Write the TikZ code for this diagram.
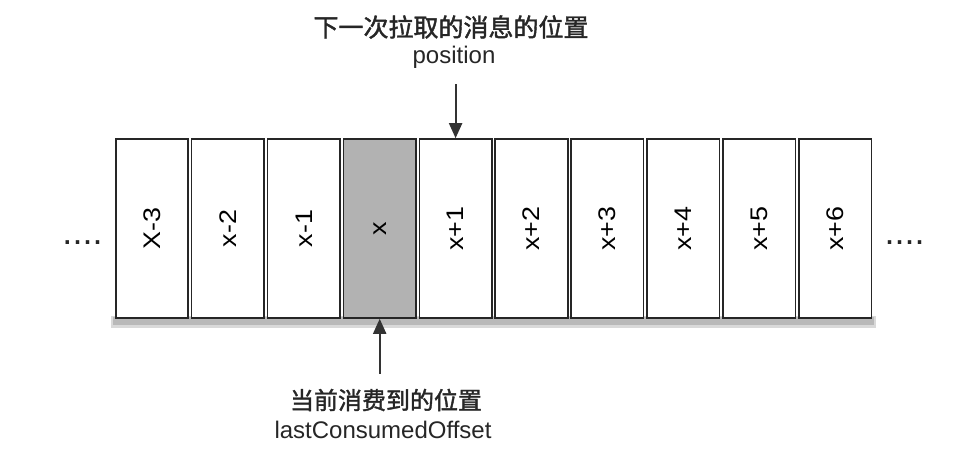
\documentclass[tikz,border=0pt]{standalone}
\usepackage{fontspec}
\setmainfont{Liberation Sans}
\newfontfamily\cjk[FakeBold=1.6]{Noto Sans CJK SC}
\usetikzlibrary{arrows.meta}
\tikzset{
	cell/.style={draw=black!85, line width=1.6pt, minimum width=72.5pt, minimum height=179pt, inner sep=0pt, font=\fontsize{24}{28}\selectfont},
	pointer/.style={draw=black!80, line width=2pt, -{Triangle[length=15pt, width=13pt]}},
	caption/.style={inner sep=0pt, text=black!85, font=\fontsize{24}{28}\selectfont},
	cjkcaption/.style={caption, font=\cjk\fontsize{24}{28}\selectfont},
}
\begin{document}
\begin{tikzpicture}[x=1pt, y=1pt]
		\useasboundingbox (0, 0) rectangle (958, 448);
		% shadow under the row
		\fill[gray!30] (111, 120) rectangle (876, 132);
		\fill[gray!55] (113, 123) rectangle (874, 131);
		% the cells
		\foreach \i/\t/\c in {0/X-3/white, 1/x-2/white, 2/x-1/white, 3/x/gray!60, 4/x+1/white, 5/x+2/white, 6/x+3/white, 7/x+4/white, 8/x+5/white, 9/x+6/white}
			\node[cell, fill=\c] (c\i) at (152 + 75.9*\i, 219.5) {\rotatebox{90}{\scalebox{1.12}[1]{\t}}};
		% the dots on both sides
		\node[caption, anchor=base, font=\fontsize{36}{40}\selectfont] (dotsl) at (82.5, 204) {....};
		\node[caption, anchor=base, font=\fontsize{36}{40}\selectfont] (dotsr) at (904.5, 204) {....};
		% next position, above
		\node[cjkcaption, font=\cjk\fontsize{25}{28}\selectfont] (nexttitle) at (451, 421) {下一次拉取的消息的位置};
		\node[caption] (pos) at (454, 391) {position};
		\draw[pointer, shorten <=16pt] (pos.south -| c4) -- (c4.north);
		% current position, below
		\node[cjkcaption] (curtitle) at (386, 48) {当前消费到的位置};
		\node[caption] (lastoff) at (383, 18) {lastConsumedOffset};
		\draw[pointer, shorten <=15pt] (curtitle.north -| c3) -- (c3.south);
	\end{tikzpicture}
\end{document}
